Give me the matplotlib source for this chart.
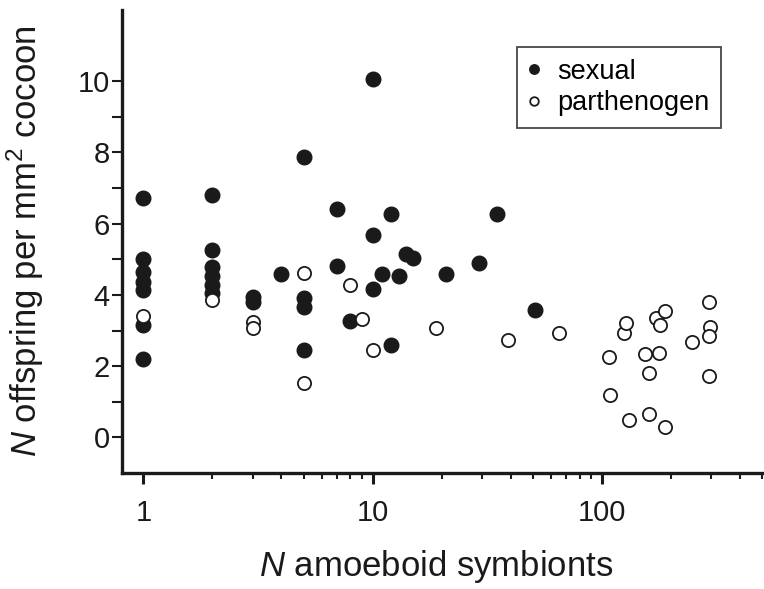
import matplotlib
matplotlib.use("Agg")
import matplotlib.pyplot as plt
from matplotlib.ticker import FixedLocator, NullFormatter

plt.rcParams['font.family'] = ['Liberation Sans', 'DejaVu Sans']
plt.rcParams['mathtext.fontset'] = 'custom'
plt.rcParams['mathtext.rm'] = 'Liberation Sans'
plt.rcParams['mathtext.it'] = 'Liberation Sans:italic'

# sexual lineages
sex_x = [1, 1, 1, 1, 1, 1, 1,
         2, 2, 2, 2, 2, 2,
         3, 3, 4,
         5, 5, 5, 5,
         7, 7, 8, 10, 10, 10, 11, 12, 12, 13, 14, 15, 21, 29, 35, 51]
sex_y = [6.72, 5.02, 4.63, 4.37, 4.14, 3.16, 2.2,
         6.8, 5.26, 4.77, 4.53, 4.28, 4.06,
         3.95, 3.79, 4.58,
         7.87, 3.92, 3.67, 2.46,
         6.41, 4.82, 3.28, 10.05, 5.68, 4.17, 4.6, 6.26, 2.58, 4.54, 5.14, 5.05, 4.59, 4.9, 6.26, 3.58]

# parthenogenetic lineages
par_x = [1, 2, 3, 3, 5, 5, 8, 9, 10, 19, 39, 65,
         108, 109, 125, 127, 131, 154, 161, 161, 172, 178, 180, 189, 189,
         248, 293, 297, 293, 293]
par_y = [3.41, 3.86, 3.23, 3.08, 4.62, 1.52, 4.28, 3.32, 2.46, 3.08, 2.74, 2.92,
         2.27, 1.18, 2.92, 3.2, 0.48, 2.34, 1.8, 0.66, 3.34, 2.38, 3.16, 3.55, 0.29,
         2.69, 3.81, 3.11, 2.85, 1.71]

ink = '#1a1a1a'

fig = plt.figure(figsize=(7.64, 5.89), dpi=100)
ax = fig.add_axes([0.1597, 0.197, 0.839, 0.786])

ax.plot(sex_x, sex_y, 'o', color=ink, ms=10.5, mec=ink, label='sexual', zorder=3)
ax.plot(par_x, par_y, 'o', mfc='white', mec=ink, mew=1.3, ms=9.5, label='parthenogen', zorder=4)

ax.set_xscale('log')
ax.set_xlim(0.807, 505)
ax.set_ylim(-1, 12)

for s in ['top', 'right']:
    ax.spines[s].set_visible(False)
for s in ['left', 'bottom']:
    ax.spines[s].set_linewidth(2.4)
    ax.spines[s].set_color(ink)

ax.xaxis.set_major_locator(FixedLocator([1, 10, 100]))
ax.set_xticklabels(['1', '10', '100'])
minors = [m * d for d in [1, 10, 100] for m in range(2, 10)]
ax.xaxis.set_minor_locator(FixedLocator([v for v in minors if v < 505]))
ax.xaxis.set_minor_formatter(NullFormatter())

ax.set_yticks([0, 2, 4, 6, 8, 10])
ax.yaxis.set_minor_locator(FixedLocator([1, 3, 5, 7, 9]))

ax.tick_params(axis='x', which='major', direction='out', length=8, width=2.2, pad=11, labelsize=21, colors=ink)
ax.tick_params(axis='x', which='minor', direction='out', length=4, width=1.5, colors=ink)
ax.tick_params(axis='y', which='major', direction='out', length=7, width=1.5, pad=2, labelsize=21, colors=ink)
ax.tick_params(axis='y', which='minor', direction='out', length=7, width=1.5, colors=ink)

ax.set_xlabel(r'$\it{N}$ amoeboid symbionts', fontsize=25, color=ink)
ax.set_ylabel(r'$\it{N}$ offspring per mm$^2$ cocoon', fontsize=25, color=ink)
ax.xaxis.set_label_coords(0.49, -0.163)
ax.yaxis.set_label_coords(-0.119, 0.5)

leg = ax.legend(loc='upper left', bbox_to_anchor=(0.616, 0.921), fontsize=19.5, frameon=True,
                fancybox=False, edgecolor=ink, markerscale=0.65, handletextpad=0.63,
                borderpad=0.45, labelspacing=0.2, handlelength=0.4, borderaxespad=0)
leg.get_frame().set_linewidth(1.3)

fig.savefig('out.png', dpi=100)
